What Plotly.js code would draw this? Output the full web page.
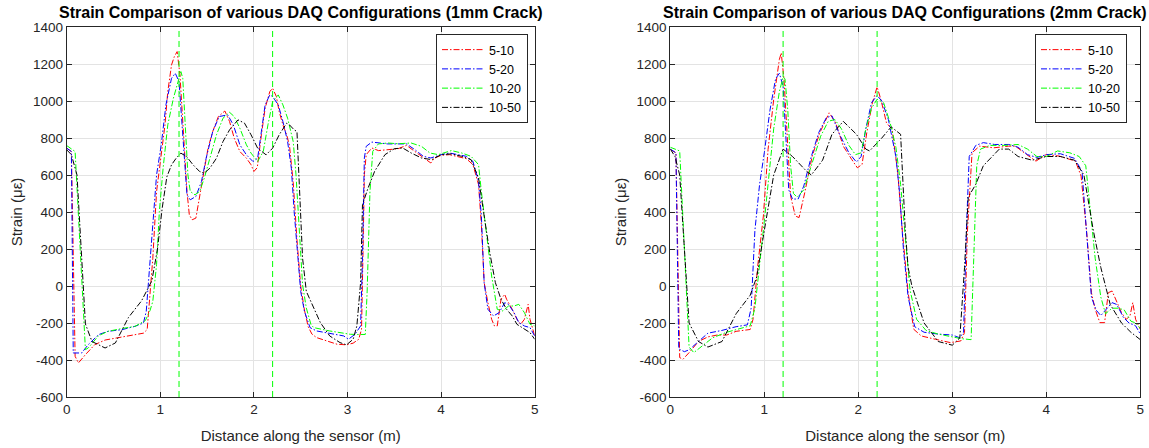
<!DOCTYPE html>
<html>
<head>
<meta charset="utf-8">
<script src="https://cdn.plot.ly/plotly-3.0.1.min.js"></script>
<style>
html,body{margin:0;padding:0;background:#fff;}
#chart{width:1149px;height:448px;}
</style>
</head>
<body>
<div id="chart"></div>
<script>
// ---------- Data ----------
const seriesNames = ["5-10", "5-20", "10-20", "10-50"];
const crackPositions = [1.2, 2.2];
const xTicks = [0, 1, 2, 3, 4, 5];
const yTicks = [-600, -400, -200, 0, 200, 400, 600, 800, 1000, 1200, 1400];

// ---- Left chart: 1mm crack ----
const L1_red_x = [0, 0.05, 0.09, 0.125, 0.2, 0.3, 0.41, 0.52, 0.62, 0.73, 0.82, 0.86, 0.89, 0.92, 0.96, 1.01, 1.05, 1.08, 1.12, 1.15, 1.18, 1.21, 1.23, 1.26, 1.285, 1.31, 1.34, 1.38, 1.41, 1.46, 1.51, 1.56, 1.62, 1.69, 1.74, 1.79, 1.85, 1.92, 1.97, 2.0, 2.036, 2.08, 2.12, 2.17, 2.2, 2.24, 2.27, 2.31, 2.35, 2.38, 2.42, 2.46, 2.5, 2.54, 2.58, 2.62, 2.67, 2.78, 2.89, 2.99, 3.06, 3.12, 3.15, 3.17, 3.18, 3.2, 3.26, 3.33, 3.43, 3.54, 3.63, 3.72, 3.81, 3.89, 3.93, 4.0, 4.09, 4.18, 4.27, 4.34, 4.4, 4.43, 4.46, 4.5, 4.54, 4.57, 4.6, 4.64, 4.68, 4.7, 4.76, 4.81, 4.85, 4.89, 4.93, 4.95, 5.0];
const L1_red_y = [745, 727, -380, -416, -371, -317, -292, -282, -272, -262, -255, -235, -65, 150, 510, 727, 871, 1051, 1195, 1240, 1267, 1141, 961, 691, 511, 385, 358, 367, 457, 619, 745, 835, 916, 946, 889, 799, 727, 691, 655, 619, 640, 817, 961, 1051, 1069, 1024, 943, 871, 817, 760, 560, 250, 0, -130, -220, -260, -279, -297, -315, -318, -309, -288, -234, 300, 602, 710, 746, 732, 737, 742, 760, 728, 692, 665, 692, 706, 710, 701, 688, 656, 548, 332, 18, -90, -180, -216, -216, -72, -45, -72, -126, -180, -207, -180, -99, -180, -270];

const L1_blue_x = [0, 0.05, 0.07, 0.16, 0.23, 0.34, 0.44, 0.59, 0.73, 0.82, 0.85, 0.89, 0.93, 0.96, 1.01, 1.06, 1.12, 1.16, 1.2, 1.22, 1.25, 1.285, 1.32, 1.38, 1.44, 1.49, 1.56, 1.63, 1.72, 1.78, 1.85, 1.92, 1.99, 2.04, 2.08, 2.12, 2.17, 2.2, 2.26, 2.31, 2.36, 2.4, 2.43, 2.47, 2.5, 2.54, 2.6, 2.67, 2.78, 2.89, 2.96, 3.01, 3.08, 3.14, 3.16, 3.18, 3.2, 3.26, 3.33, 3.43, 3.54, 3.63, 3.72, 3.81, 3.89, 4.0, 4.09, 4.18, 4.27, 4.34, 4.4, 4.43, 4.46, 4.5, 4.56, 4.62, 4.68, 4.72, 4.78, 4.83, 4.89, 4.95, 5.0];
const L1_blue_y = [745, 727, -362, -362, -317, -263, -245, -236, -218, -200, -137, 120, 403, 600, 763, 979, 1123, 1150, 1105, 961, 691, 493, 466, 484, 565, 691, 835, 916, 925, 871, 763, 709, 673, 691, 835, 979, 1033, 1024, 979, 889, 781, 637, 403, 151, -29, -137, -225, -243, -252, -261, -270, -288, -261, -216, 152, 692, 755, 778, 773, 768, 768, 768, 737, 701, 692, 710, 719, 710, 701, 674, 566, 380, 18, -126, -162, -144, -90, -99, -144, -198, -216, -225, -270];

const L1_green_x = [0, 0.09, 0.2, 0.23, 0.34, 0.44, 0.59, 0.73, 0.84, 0.89, 0.92, 0.96, 0.99, 1.03, 1.08, 1.14, 1.19, 1.22, 1.24, 1.27, 1.295, 1.32, 1.37, 1.42, 1.47, 1.53, 1.6, 1.67, 1.74, 1.79, 1.85, 1.92, 1.97, 2.04, 2.1, 2.15, 2.2, 2.26, 2.31, 2.36, 2.42, 2.45, 2.49, 2.52, 2.56, 2.61, 2.64, 2.71, 2.81, 2.92, 3.03, 3.11, 3.19, 3.21, 3.24, 3.27, 3.33, 3.43, 3.54, 3.68, 3.79, 3.88, 3.97, 4.11, 4.22, 4.32, 4.4, 4.43, 4.48, 4.54, 4.6, 4.66, 4.72, 4.78, 4.83, 4.89, 4.95, 5.0];
const L1_green_y = [759, 727, -344, -335, -269, -245, -230, -218, -187, -133, -83, 115, 403, 637, 871, 1015, 1105, 1159, 1123, 871, 601, 511, 493, 511, 583, 691, 817, 907, 939, 916, 853, 763, 718, 673, 727, 871, 997, 1033, 979, 907, 781, 601, 295, 7, -119, -209, -225, -234, -243, -252, -261, -262, -262, -28, 512, 728, 768, 773, 769, 773, 755, 719, 710, 732, 719, 701, 656, 512, 288, 54, -126, -135, -108, -108, -99, -144, -207, -216];

const L1_black_x = [0, 0.05, 0.11, 0.2, 0.27, 0.41, 0.52, 0.66, 0.8, 0.91, 0.97, 1.02, 1.07, 1.12, 1.17, 1.22, 1.28, 1.35, 1.42, 1.47, 1.53, 1.6, 1.67, 1.74, 1.83, 1.9, 1.97, 2.04, 2.13, 2.2, 2.27, 2.35, 2.38, 2.43, 2.46, 2.49, 2.52, 2.56, 2.6, 2.71, 2.81, 2.92, 2.99, 3.06, 3.1, 3.14, 3.16, 3.22, 3.29, 3.4, 3.5, 3.59, 3.68, 3.79, 3.9, 4.0, 4.11, 4.22, 4.32, 4.4, 4.46, 4.52, 4.58, 4.64, 4.7, 4.76, 4.81, 4.89, 4.95, 5.0];
const L1_black_y = [736, 710, 600, -205, -300, -335, -308, -170, -80, 29, 200, 420, 590, 655, 691, 718, 700, 655, 619, 610, 637, 691, 781, 844, 898, 880, 817, 745, 709, 745, 817, 880, 871, 844, 835, 511, 151, -29, -72, -198, -270, -306, -318, -288, -216, 18, 440, 530, 620, 710, 742, 746, 719, 692, 683, 710, 714, 701, 683, 584, 378, 180, 18, -72, -126, -162, -207, -234, -252, -288];

// ---- Right chart: 2mm crack ----
const L2_red_x = [0, 0.06, 0.1, 0.135, 0.2, 0.3, 0.4, 0.5, 0.6, 0.7, 0.85, 0.88, 0.93, 0.99, 1.04, 1.1, 1.16, 1.18, 1.21, 1.245, 1.28, 1.33, 1.37, 1.43, 1.51, 1.59, 1.69, 1.76, 1.84, 1.93, 1.99, 2.04, 2.09, 2.15, 2.2, 2.24, 2.3, 2.36, 2.42, 2.47, 2.53, 2.59, 2.67, 2.82, 2.98, 3.09, 3.13, 3.16, 3.21, 3.29, 3.44, 3.6, 3.67, 3.79, 3.89, 4.0, 4.14, 4.31, 4.37, 4.43, 4.48, 4.52, 4.57, 4.62, 4.66, 4.7, 4.74, 4.8, 4.85, 4.89, 4.92, 4.95, 5.0];
const L2_red_y = [738, 720, -387, -396, -360, -300, -275, -265, -265, -245, -235, -180, 108, 378, 738, 1008, 1224, 1260, 1116, 828, 486, 378, 370, 504, 702, 828, 936, 882, 756, 684, 639, 657, 828, 990, 1076, 1008, 882, 846, 612, 288, -36, -234, -270, -288, -306, -297, -252, 288, 720, 756, 747, 756, 756, 711, 675, 711, 702, 675, 594, 288, -36, -126, -198, -198, -36, -27, -72, -144, -180, -162, -90, -180, -234];

const L2_blue_x = [0, 0.06, 0.09, 0.15, 0.2, 0.3, 0.4, 0.55, 0.7, 0.82, 0.86, 0.9, 0.95, 1.0, 1.06, 1.12, 1.16, 1.2, 1.23, 1.26, 1.3, 1.36, 1.42, 1.5, 1.58, 1.66, 1.72, 1.8, 1.9, 1.98, 2.03, 2.08, 2.14, 2.2, 2.25, 2.32, 2.4, 2.44, 2.48, 2.53, 2.6, 2.7, 2.85, 3.0, 3.08, 3.12, 3.15, 3.18, 3.25, 3.33, 3.45, 3.6, 3.7, 3.8, 3.9, 4.0, 4.15, 4.3, 4.38, 4.43, 4.48, 4.53, 4.58, 4.63, 4.7, 4.75, 4.82, 4.88, 4.95, 5.0];
const L2_blue_y = [740, 720, -340, -355, -345, -300, -255, -240, -220, -210, -120, 300, 550, 720, 950, 1120, 1150, 1080, 800, 520, 470, 470, 540, 700, 830, 910, 920, 820, 720, 670, 700, 850, 990, 1030, 1000, 900, 700, 500, 200, -60, -220, -250, -260, -265, -280, -250, 300, 700, 760, 775, 765, 765, 750, 710, 695, 710, 715, 690, 620, 300, -60, -130, -160, -130, -90, -100, -170, -200, -215, -260];

const L2_green_x = [0, 0.1, 0.2, 0.25, 0.35, 0.45, 0.6, 0.75, 0.85, 0.9, 0.95, 1.0, 1.05, 1.1, 1.16, 1.2, 1.22, 1.25, 1.28, 1.31, 1.35, 1.42, 1.5, 1.6, 1.68, 1.75, 1.82, 1.9, 1.97, 2.03, 2.08, 2.14, 2.2, 2.27, 2.34, 2.4, 2.45, 2.5, 2.55, 2.62, 2.72, 2.85, 3.0, 3.1, 3.2, 3.23, 3.26, 3.3, 3.4, 3.55, 3.7, 3.8, 3.9, 4.0, 4.12, 4.25, 4.35, 4.42, 4.47, 4.52, 4.58, 4.63, 4.7, 4.77, 4.83, 4.9, 4.95, 5.0];
const L2_green_y = [750, 730, -330, -360, -320, -280, -250, -230, -215, -120, 100, 350, 600, 850, 1050, 1130, 1120, 950, 650, 500, 480, 520, 650, 810, 890, 900, 850, 760, 710, 720, 850, 960, 1010, 990, 880, 750, 550, 250, -20, -180, -240, -260, -275, -285, -290, 200, 650, 740, 760, 760, 765, 740, 700, 700, 730, 720, 700, 650, 400, 150, -60, -150, -120, -120, -130, -190, -200, -230];

const L2_black_x = [0, 0.05, 0.1, 0.2, 0.3, 0.4, 0.55, 0.7, 0.85, 0.92, 1.0, 1.1, 1.2, 1.3, 1.45, 1.5, 1.62, 1.72, 1.84, 1.98, 2.08, 2.12, 2.25, 2.35, 2.45, 2.5, 2.53, 2.57, 2.7, 2.85, 3.0, 3.08, 3.13, 3.17, 3.25, 3.33, 3.5, 3.6, 3.7, 3.85, 4.0, 4.15, 4.3, 4.4, 4.5, 4.58, 4.68, 4.8, 4.9, 5.0];
const L2_black_y = [740, 700, 600, -200, -300, -330, -300, -150, -50, 50, 300, 600, 740, 700, 620, 600, 680, 820, 890, 820, 740, 730, 800, 860, 820, 300, 100, 0, -200, -300, -320, -280, 100, 480, 550, 650, 740, 740, 700, 680, 700, 700, 680, 600, 300, 100, -100, -200, -250, -290];

const seriesColors = ["#ff0000", "#0000ff", "#00ff00", "#000000"];

// ---------- Build ----------
const chartData = [
  {xs: [L1_red_x, L1_blue_x, L1_green_x, L1_black_x], ys: [L1_red_y, L1_blue_y, L1_green_y, L1_black_y]},
  {xs: [L2_red_x, L2_blue_x, L2_green_x, L2_black_x], ys: [L2_red_y, L2_blue_y, L2_green_y, L2_black_y]}
];
const dashDot = "6px,2px,1.5px,2px";
const traces = [];
chartData.forEach((c, ci) => {
  for (let i = 0; i < 4; i++) {
    traces.push({
      type: "scatter", mode: "lines",
      x: c.xs[i], y: c.ys[i], name: seriesNames[i],
      xaxis: ci === 0 ? "x" : "x2", yaxis: ci === 0 ? "y" : "y2",
      legend: ci === 0 ? "legend" : "legend2",
      line: {color: seriesColors[i], width: 1, dash: dashDot}
    });
  }
});

const W = 1149, H = 448;
const yDom = [(H - 397) / H, (H - 27) / H];
const FONT = "Liberation Sans, Arial, Helvetica, sans-serif";
const axisCommon = {
  showline: true, mirror: "ticks", linecolor: "#262626", linewidth: 1,
  ticks: "inside", ticklen: 5, tickcolor: "#262626", tickwidth: 1,
  showgrid: true, gridcolor: "#e3e3e3", gridwidth: 1, zeroline: false,
  tickfont: {family: FONT, size: 13.5, color: "#262626"}, automargin: false
};
function xax(dom) {
  return Object.assign({}, axisCommon, {
    domain: dom, range: [0, 5], tickmode: "array", tickvals: xTicks,
    ticktext: xTicks.map(String),
    title: {text: "Distance along the sensor (m)", font: {family: FONT, size: 15, color: "#262626"}, standoff: 14}
  });
}
function yax(anchor) {
  return Object.assign({}, axisCommon, {
    domain: yDom, range: [-600, 1400], tickmode: "array", tickvals: yTicks,
    ticktext: yTicks.map(String), anchor: anchor,
    title: {text: "Strain (με)", font: {family: FONT, size: 15, color: "#262626"}, standoff: 6}
  });
}
const xDom1 = [66.7 / W, 534.7 / W];
const xDom2 = [670.3 / W, 1140.3 / W];

const shapes = [];
[["x", "y"], ["x2", "y2"]].forEach(ax => {
  crackPositions.forEach(p => {
    shapes.push({type: "line", xref: ax[0], yref: ax[1], x0: p, x1: p, y0: -600, y1: 1400,
      line: {color: "#00ff00", width: 1, dash: "6px,4px"}});
  });
});

const legendCommon = {
  bgcolor: "#ffffff", bordercolor: "#262626", borderwidth: 1,
  font: {family: FONT, size: 12.5, color: "#000"}, xanchor: "right", yanchor: "top",
  tracegroupgap: 0, itemwidth: 42
};

const layout = {
  width: W, height: H, margin: {l: 0, r: 0, t: 0, b: 0},
  paper_bgcolor: "#fff", plot_bgcolor: "#fff",
  xaxis: xax(xDom1), yaxis: yax("x"),
  xaxis2: xax(xDom2), yaxis2: yax("x2"),
  shapes: shapes,
  legend: Object.assign({}, legendCommon, {x: 528 / W, y: 1 - 34 / H}),
  legend2: Object.assign({}, legendCommon, {x: 1127 / W, y: 1 - 34 / H}),
  annotations: [
    {text: "Strain Comparison of various DAQ Configurations (1mm Crack)", xref: "paper", yref: "paper",
     x: (xDom1[0] + xDom1[1]) / 2, y: 1 - 12 / H, xanchor: "center", yanchor: "middle", showarrow: false,
     font: {family: FONT, size: 16, color: "#000", weight: "bold"}},
    {text: "Strain Comparison of various DAQ Configurations (2mm Crack)", xref: "paper", yref: "paper",
     x: (xDom2[0] + xDom2[1]) / 2, y: 1 - 12 / H, xanchor: "center", yanchor: "middle", showarrow: false,
     font: {family: FONT, size: 16, color: "#000", weight: "bold"}}
  ]
};

Plotly.newPlot("chart", traces, layout, {displayModeBar: false, staticPlot: true});
</script>
</body>
</html>
